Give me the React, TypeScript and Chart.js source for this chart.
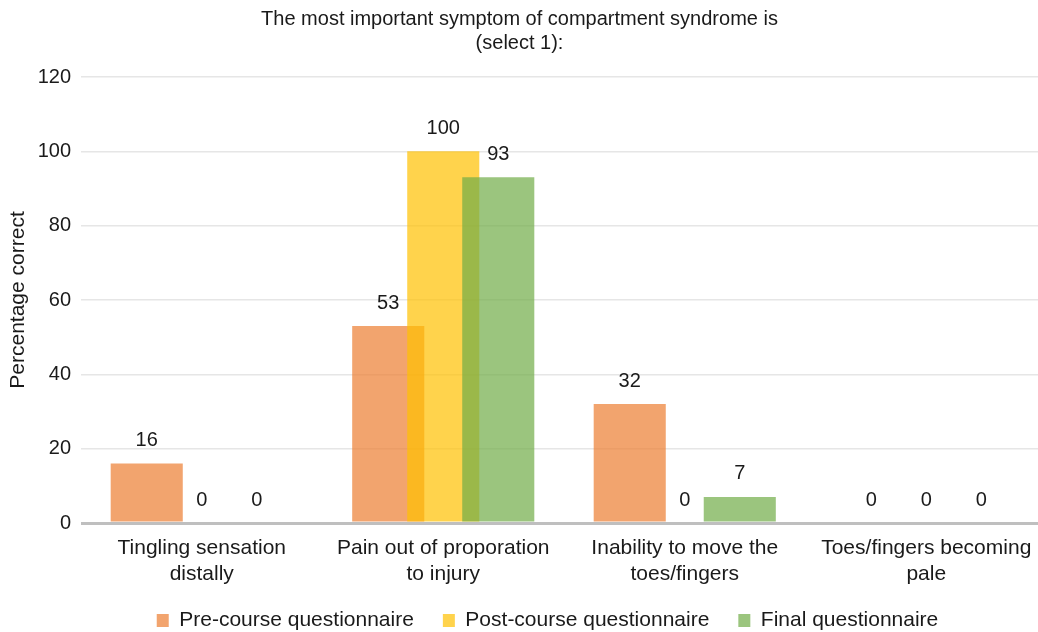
import React, { useEffect, useRef } from "react";
import { Chart, registerables } from "chart.js";

Chart.register(...registerables);

const categories: string[][] = [
  ["Tingling sensation", "distally"],
  ["Pain out of proporation", "to injury"],
  ["Inability to move the", "toes/fingers"],
  ["Toes/fingers becoming", "pale"],
];
const seriesNames = ["Pre-course questionnaire", "Post-course questionnaire", "Final questionnaire"];
const preCourse = [16, 53, 32, 0];
const postCourse = [0, 100, 0, 0];
const finalQ = [0, 93, 7, 0];
const yTicks = [0, 20, 40, 60, 80, 100, 120];
const titleLines = ["The most important symptom of compartment syndrome is", "(select 1):"];
const yTitle = "Percentage correct";

const FONT = "'Liberation Sans', Arial, sans-serif";
const TEXT = "#1a1a1a";

const drawOrderPlugin = {
  id: "drawOrder",
  beforeDatasetsDraw(chart: any) {
    const area = chart.chartArea;
    const ctx = chart.ctx;
    for (let i = 0; i < chart.data.datasets.length; i++) {
      const meta = chart.getDatasetMeta(i);
      if (!meta.visible) continue;
      ctx.save();
      ctx.beginPath();
      ctx.rect(area.left, area.top - 2, area.right - area.left, area.bottom - area.top + 2);
      ctx.clip();
      meta.controller.draw();
      ctx.restore();
    }
    return false;
  },
};

const valueLabelPlugin = {
  id: "valueLabels",
  afterDraw(chart: any) {
    const ctx = chart.ctx;
    ctx.save();
    ctx.font = `20px ${FONT}`;
    ctx.fillStyle = TEXT;
    ctx.textAlign = "center";
    ctx.textBaseline = "middle";
    chart.data.datasets.forEach((ds: any, i: number) => {
      const meta = chart.getDatasetMeta(i);
      meta.data.forEach((el: any, j: number) => {
        ctx.fillText(String(ds.data[j]), el.x, el.y - 23);
      });
    });
    ctx.restore();
  },
};

const shiftBoxesPlugin = {
  id: "shiftBoxes",
  afterLayout(chart: any) {
    const lg = chart.legend;
    if (lg) {
      lg.left += 24;
      lg.right += 24;
      lg.top -= 6;
      lg.bottom -= 6;
    }
    const tb = chart.titleBlock;
    if (tb) {
      tb.left -= 4;
      tb.right -= 4;
    }
  },
};

export default function App() {
  const ref = useRef<HTMLCanvasElement | null>(null);
  useEffect(() => {
    if (!ref.current) return;
    const chart = new Chart(ref.current, {
      type: "bar",
      data: {
        labels: categories,
        datasets: [
          { label: seriesNames[0], data: preCourse, backgroundColor: "rgba(237,125,49,0.7)" },
          { label: seriesNames[1], data: postCourse, backgroundColor: "rgba(255,192,0,0.7)" },
          { label: seriesNames[2], data: finalQ, backgroundColor: "rgba(112,173,71,0.7)" },
        ],
      },
      options: {
        responsive: false,
        animation: false,
        layout: { padding: { left: 0, right: 1, top: 0, bottom: 0 } },
        datasets: {
          bar: { categoryPercentage: 0.6835, barPercentage: 1.31 },
        },
        scales: {
          x: {
            grid: { display: false, drawTicks: false },
            border: { display: false },
            afterFit: (scale: any) => {
              scale.height = 64;
            },
            ticks: {
              color: TEXT,
              font: { family: FONT, size: 21 },
              padding: 13,
              maxRotation: 0,
              autoSkip: false,
            },
          },
          y: {
            min: 0,
            max: 120,
            afterBuildTicks: (scale: any) => {
              scale.ticks = yTicks.map((v) => ({ value: v }));
            },
            afterFit: (scale: any) => {
              scale.width = 81;
            },
            grid: {
              drawTicks: false,
              color: (c: any) => (c.tick && c.tick.value === 0 ? "#bfbfbf" : "#e6e6e6"),
              lineWidth: (c: any) => (c.tick && c.tick.value === 0 ? 3 : 1.5),
            },
            border: { display: false },
            ticks: {
              color: TEXT,
              font: { family: FONT, size: 20 },
              padding: 10,
            },
            title: {
              display: true,
              text: yTitle,
              color: TEXT,
              font: { family: FONT, size: 21 },
              padding: { top: 6, bottom: 0 },
            },
          },
        },
        plugins: {
          title: {
            display: true,
            text: titleLines,
            color: TEXT,
            font: { family: FONT, size: 20, weight: "normal" },
            padding: { top: 7, bottom: 22 },
          },
          legend: {
            position: "bottom",
            labels: {
              color: TEXT,
              font: { family: FONT, size: 21 },
              boxWidth: 12,
              boxHeight: 13,
              padding: 29,
            },
          },
          tooltip: { enabled: false },
        },
      },
      plugins: [drawOrderPlugin, valueLabelPlugin, shiftBoxesPlugin],
    } as any);
    return () => chart.destroy();
  }, []);
  return (
    <div style={{ position: "fixed", left: 0, top: 0, width: 1038, height: 632, overflow: "hidden", background: "#fff" }}>
      <canvas ref={ref} width={1048} height={647} style={{ display: "block" }} />
    </div>
  );
}
